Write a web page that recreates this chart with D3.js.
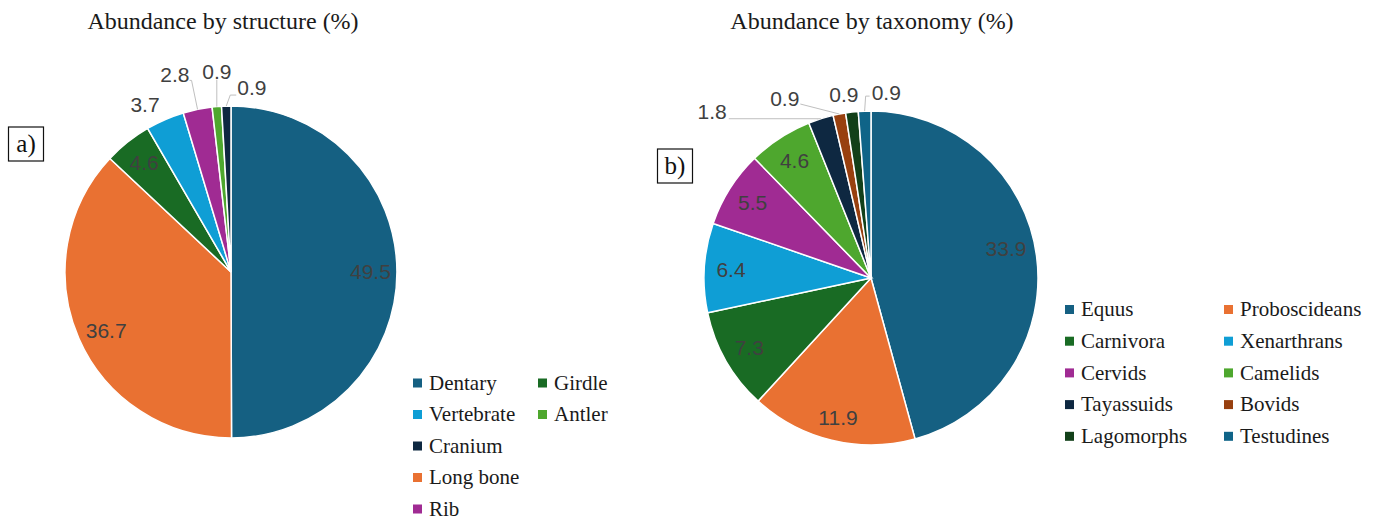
<!DOCTYPE html>
<html>
<head>
<meta charset="utf-8">
<script src="https://cdn.jsdelivr.net/npm/d3@7"></script>
<style>
  body { margin: 0; background: #fff; }
  svg { display: block; }
</style>
</head>
<body>
<script>
var width = 1382;
var height = 522;

// structure data (clockwise from 12 o'clock)
var structureNames = ['Dentary', 'Long bone', 'Girdle', 'Vertebrate', 'Rib', 'Antler', 'Cranium'];
var structureValues = [49.5, 36.7, 4.6, 3.7, 2.8, 0.9, 0.9];
var structureColors = ['#156082', '#e97132', '#196b24', '#0f9ed5', '#a02b93', '#4ea72e', '#0e2841'];
var structureLegendOrder = ['Dentary', 'Girdle', 'Vertebrate', 'Antler', 'Cranium', 'Long bone', 'Rib'];

// taxonomy data
var taxonNames = ['Equus', 'Proboscideans', 'Carnivora', 'Xenarthrans', 'Cervids', 'Camelids',
    'Tayassuids', 'Bovids', 'Lagomorphs', 'Testudines'];
var taxonValues = [33.9, 11.9, 7.3, 6.4, 5.5, 4.6, 1.8, 0.9, 0.9, 0.9];
var taxonColors = ['#156082', '#e97132', '#196b24', '#0f9ed5', '#a02b93', '#4ea72e',
    '#0e2841', '#98400f', '#124019', '#0f6488'];

var svg = d3.select('body')
    .append('svg')
    .attr('width', width)
    .attr('height', height);

var serif = '"Liberation Serif", "Times New Roman", serif';
var sans = '"Liberation Sans", Arial, sans-serif';

function drawPie(opts) {
    var pie = d3.pie().sort(null).value(function(d) { return d.value; });
    var data = opts.names.map(function(n, i) {
        return { name: n, value: opts.values[i], color: opts.colors[i] };
    });
    var piedata = pie(data);

    var arc = d3.arc().outerRadius(opts.r).innerRadius(0);
    var g = svg.append('g')
        .attr('transform', 'translate(' + opts.cx + ',' + opts.cy + ')');

    g.selectAll('path')
        .data(piedata)
        .enter()
        .append('path')
        .attr('d', arc)
        .attr('fill', function(d) { return d.data.color; })
        .attr('stroke', '#fff')
        .attr('stroke-width', 1.5);

    function outerPt(d) {
        var a = (d.startAngle + d.endAngle) / 2;
        return [Math.sin(a) * opts.r, -Math.cos(a) * opts.r];
    }

    piedata.forEach(function(d, i) {
        var a = (d.startAngle + d.endAngle) / 2;
        var out = opts.outside[i];
        if (!out) {
            var rr = opts.r * 0.84;
            var nudge = (opts.nudge && opts.nudge[i]) || [0, 0];
            g.append('text')
                .attr('x', Math.sin(a) * rr + nudge[0])
                .attr('y', -Math.cos(a) * rr + nudge[1])
                .attr('dy', '0.36em')
                .attr('text-anchor', 'middle')
                .attr('font-family', sans)
                .attr('font-size', 21)
                .attr('fill', '#404040')
                .text(d.data.value.toFixed(1));
            return;
        }
        var p = outerPt(d);
        if (out.leader) {
            var pts = [p].concat(out.leader.map(function(o) { return [p[0] + o[0], p[1] + o[1]]; }));
            g.append('path')
                .attr('d', d3.line()(pts))
                .attr('fill', 'none')
                .attr('stroke', '#bfbfbf')
                .attr('stroke-width', 1);
        }
        g.append('text')
            .attr('x', p[0] + out.dx)
            .attr('y', p[1] + out.dy)
            .attr('dy', '0.36em')
            .attr('text-anchor', out.anchor)
            .attr('font-family', sans)
            .attr('font-size', 21)
            .attr('fill', '#404040')
            .text(d.data.value.toFixed(1));
    });

    svg.append('text')
        .attr('x', opts.titleX)
        .attr('y', 29)
        .attr('text-anchor', 'middle')
        .attr('font-family', serif)
        .attr('font-size', 24)
        .attr('fill', '#1a1a1a')
        .text(opts.title);

    // panel tag
    svg.append('rect')
        .attr('x', opts.tag.x)
        .attr('y', opts.tag.y)
        .attr('width', 35)
        .attr('height', 34)
        .attr('fill', 'none')
        .attr('stroke', '#111')
        .attr('stroke-width', 1.2);
    svg.append('text')
        .attr('x', opts.tag.x + 17.5)
        .attr('y', opts.tag.y + 25)
        .attr('text-anchor', 'middle')
        .attr('font-family', serif)
        .attr('font-size', 25)
        .attr('fill', '#111')
        .text(opts.tag.text);

    // legend
    var leg = svg.append('g');
    opts.legendOrder.forEach(function(name, k) {
        var pos = opts.legendPos(k);
        var i = opts.names.indexOf(name);
        leg.append('rect')
            .attr('x', pos[0])
            .attr('y', pos[1] - 4.5)
            .attr('width', 9)
            .attr('height', 9)
            .attr('fill', opts.colors[i]);
        leg.append('text')
            .attr('x', pos[0] + 16)
            .attr('y', pos[1])
            .attr('dy', '0.32em')
            .attr('font-family', serif)
            .attr('font-size', 21)
            .attr('fill', '#1a1a1a')
            .text(name);
    });
}

// a) structure
drawPie({
    names: structureNames,
    values: structureValues,
    colors: structureColors,
    cx: 231, cy: 272, r: 166,
    title: 'Abundance by structure (%)',
    titleX: 223,
    tag: { x: 8.5, y: 127, text: 'a)' },
    nudge: { 1: [3, 3] },
    outside: {
        3: { dx: -20, dy: -15, anchor: 'middle' },
        4: { dx: -8, dy: -35, anchor: 'end', leader: [[-6, -29], [-8, -29]] },
        5: { dx: 0, dy: -35, anchor: 'middle', leader: [[0, -27]] },
        6: { dx: 11, dy: -19, anchor: 'start', leader: [[4, -11], [10, -11]] }
    },
    legendOrder: structureLegendOrder,
    legendPos: function(k) {
        if (k < 4) {
            return [413 + (k % 2) * 125, 383 + Math.floor(k / 2) * 31.5];
        }
        return [413, 383 + (k - 2) * 31.5];
    }
});

// b) taxonomy
drawPie({
    names: taxonNames,
    values: taxonValues,
    colors: taxonColors,
    cx: 871, cy: 278, r: 167,
    title: 'Abundance by taxonomy (%)',
    titleX: 872,
    tag: { x: 657.5, y: 149, text: 'b)' },
    nudge: { 0: [-4, -11], 1: [0, 3] },
    outside: {
        6: { dx: -94, dy: -7, anchor: 'end', leader: [[-92, 0]] },
        7: { dx: -40, dy: -16, anchor: 'end', leader: [[-39, -10]] },
        8: { dx: -8, dy: -18, anchor: 'middle' },
        9: { dx: 7, dy: -19, anchor: 'start', leader: [[1, -15], [5, -15]] }
    },
    legendOrder: taxonNames,
    legendPos: function(k) {
        return [1065 + (k % 2) * 159, 309.5 + Math.floor(k / 2) * 31.7];
    }
});
</script>
</body>
</html>
